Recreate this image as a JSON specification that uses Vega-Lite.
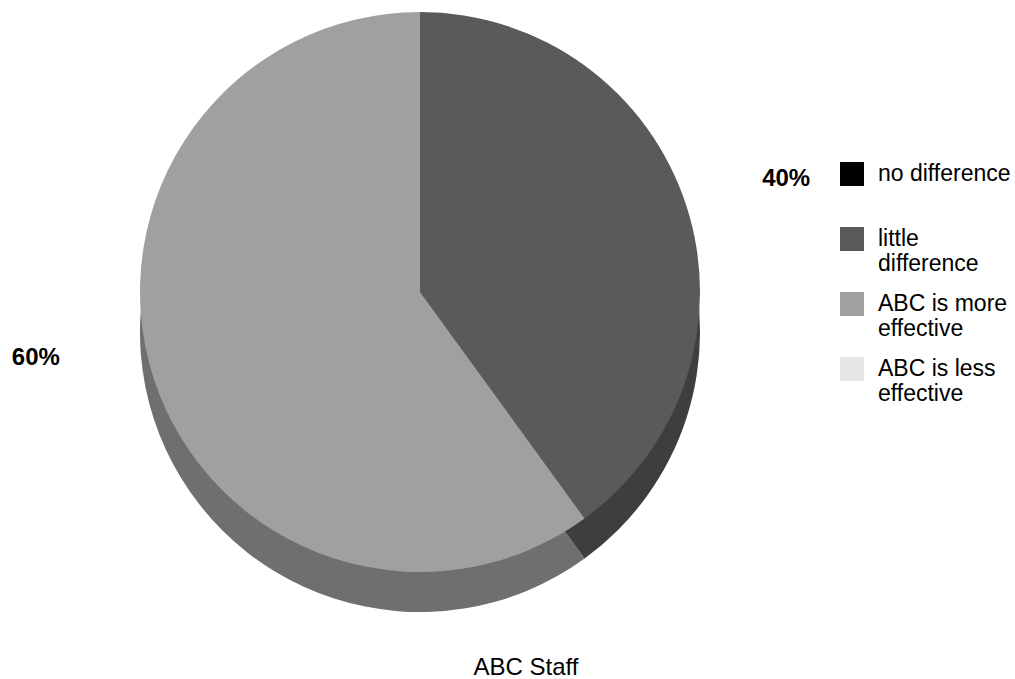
{
  "$schema": "https://vega.github.io/schema/vega-lite/v6.json",
  "width": 840,
  "height": 584,
  "padding": 0,
  "background": "white",
  "config": {"view": {"stroke": null}, "font": "Liberation Sans"},
  "title": {"text": "ABC Staff", "orient": "bottom", "offset": 44, "dx": 106, "fontSize": 24, "fontWeight": "normal", "color": "#000000", "font": "Liberation Sans"},
  "data": {"values": [
    {"category": "no difference", "value": 0, "order": 1, "pct": "0%"},
    {"category": "little difference", "value": 40, "order": 2, "pct": "40%"},
    {"category": "ABC is more effective", "value": 60, "order": 3, "pct": "60%"},
    {"category": "ABC is less effective", "value": 0, "order": 4, "pct": "0%"}
  ]},
  "encoding": {
    "theta": {"field": "value", "type": "quantitative", "stack": true},
    "order": {"field": "order", "type": "quantitative"}
  },
  "layer": [
    {
      "mark": {"type": "arc", "outerRadius": 280, "yOffset": 40},
      "encoding": {
        "color": {"field": "category", "type": "nominal"}
      }
    },
    {
      "mark": {"type": "arc", "outerRadius": 280, "yOffset": 40, "color": "#000000", "opacity": 0.3},
      "encoding": {}
    },
    {
      "mark": {"type": "arc", "outerRadius": 280},
      "encoding": {
        "color": {"field": "category", "type": "nominal",
          "scale": {"domain": ["no difference", "little difference", "ABC is more effective", "ABC is less effective"],
                    "range": ["#000000", "#5a5a5a", "#a0a0a0", "#e6e6e6"]},
          "legend": {"title": "\u00a0", "titleFontSize": 10, "titlePadding": 152, "orient": "right", "offset": 0,
            "symbolType": "square", "symbolSize": 576, "symbolStrokeWidth": 0,
            "labelFontSize": 23, "labelLineHeight": 25, "labelFont": "Liberation Sans", "labelColor": "#000000",
            "labelLimit": 200, "rowPadding": 16, "labelOffset": 14,
            "labelExpr": "datum.label == 'no difference' ? ['no difference', ''] : datum.label == 'little difference' ? ['little', 'difference'] : datum.label == 'ABC is more effective' ? ['ABC is more', 'effective'] : ['ABC is less', 'effective']"}
        }
      }
    },
    {
      "transform": [{"filter": "datum.value > 0"}],
      "mark": {"type": "text", "radius": 385, "fontSize": 24, "fontWeight": "bold", "font": "Liberation Sans", "color": "#000000", "dy": 6},
      "encoding": {
        "text": {"condition": {"test": "datum.category == 'little difference'", "field": "pct"}, "value": ""}
      }
    },
    {
      "transform": [{"filter": "datum.value > 0"}],
      "mark": {"type": "text", "radius": 385, "fontSize": 24, "fontWeight": "bold", "font": "Liberation Sans", "color": "#000000", "dx": -18, "dy": -53},
      "encoding": {
        "text": {"condition": {"test": "datum.category == 'ABC is more effective'", "field": "pct"}, "value": ""}
      }
    }
  ]
}
